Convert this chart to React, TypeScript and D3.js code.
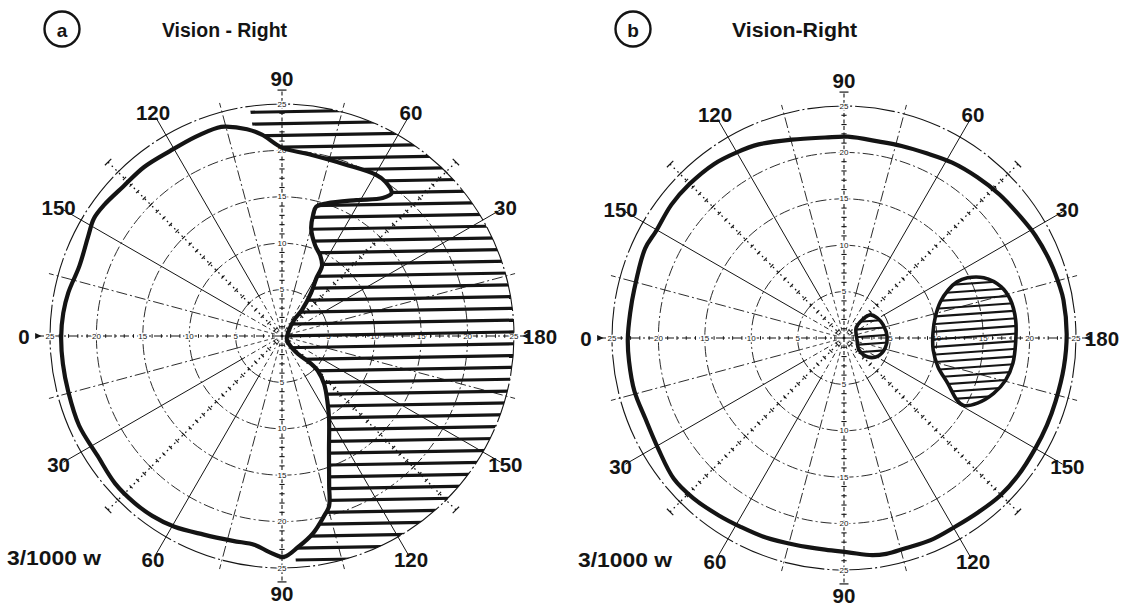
import React, { useEffect } from 'react';
import * as d3 from 'd3';

const WIDTH = 1133;
const HEIGHT = 607;
const MAX_ECC = 25;
const OUTER_PX = 232;

// grid definition (eccentricity rings and meridians, degrees; 0 = right, counter-clockwise)
const RINGS = [5, 10, 15, 20, 25];
const AXIS_NUMBERS = [5, 10, 15, 20, 25];
const HORIZONTAL_MERIDIANS = [0, 180];
const VERTICAL_MERIDIANS = [90, 270];
const DIAGONAL_MERIDIANS = [45, 135, 225, 315];
const MAJOR_MERIDIANS = [30, 60, 120, 150, 210, 240, 300, 330];
const MINOR_MERIDIANS = [15, 75, 105, 165, 195, 255, 285, 345];
const LABEL_MERIDIANS = [180, 150, 120, 90, 60, 30, 0, 330, 300, 270, 240, 210];
const LABEL_TEXTS = ['0', '150', '120', '90', '60', '30', '180', '150', '120', '90', '60', '30'];

// chart a: isopter [meridian°, eccentricity]
const ISOPTER_A: [number, number][] = [
  [105.3, 23.4], [99.6, 22.6], [95.7, 21.8], [90, 20.3], [81.5, 19.8], [69.8, 19.7], [60, 20.1],
  [56.1, 20.0], [52.5, 19.4], [53.9, 18.4], [61.3, 16.7], [71.2, 15.1], [75.2, 14.4], [75.6, 13.5],
  [74.8, 12.0], [69.9, 10.4], [64.6, 9.6], [60.3, 8.7], [59.2, 7.2], [56, 5.6], [52.4, 3.5],
  [53.1, 2.2], [40.6, 1.0], [-31, 0.6], [-48.8, 1.1], [-48.4, 2.6], [-43.9, 4.1], [-44.2, 5.4],
  [-48.8, 6.9], [-55.3, 8.6], [-60.2, 10.2], [-67.8, 13.4], [-72.5, 16.9], [-74.5, 19.0],
  [-76.8, 19.9], [-81, 21.5], [-85.6, 22.8], [-89.5, 23.8], [-93.5, 23.3], [-97.4, 22.7],
  [-103.5, 22.7], [-111.5, 23.0], [-119.4, 23.6], [-125.8, 23.9], [-131.5, 24.0], [-138.5, 24.0],
  [-147.1, 23.7], [-156.2, 23.9], [-165.5, 23.8], [-172.7, 23.8], [180.3, 23.8], [174, 23.7],
  [168.6, 23.5], [160.9, 23.1], [152.6, 23.5], [148, 23.9], [143.5, 23.8], [136.7, 23.5],
  [129.2, 23.5], [121.1, 23.3], [113.5, 23.4], [107.2, 23.5],
];
// meridian range of the hatched (blind) half-field in chart a
const DEFECT_A_SECTOR: [number, number] = [98, -86.5];

// chart b: isopter and two scotomas [meridian°, eccentricity]
const ISOPTER_B: [number, number][] = [
  [180.3, 23.3], [173.3, 23.2], [167, 23.2], [155.8, 23.5], [150.5, 23.3], [142.3, 23.5],
  [135.2, 23.5], [126.7, 23.4], [120, 23.1], [113.8, 22.8], [104.7, 22.1], [95.4, 21.7],
  [88.9, 21.7], [79.8, 21.5], [73.3, 21.6], [65.9, 21.8], [58.3, 22.2], [50.3, 22.5],
  [42.7, 22.8], [33.9, 23.1], [28.1, 23.4], [20, 23.7], [13.6, 23.9], [9.8, 24.0], [1, 24.0],
  [-7.5, 23.9], [-16.6, 23.8], [-23.3, 23.8], [-29.9, 23.8], [-38.4, 23.9], [-45.4, 23.9],
  [-52.6, 23.7], [-59.4, 23.6], [-66.8, 23.7], [-73.7, 23.6], [-78.9, 23.7], [-82.6, 23.6],
  [-88.9, 23.1], [-95.1, 22.9], [-103.4, 22.9], [-111.4, 23.1], [-118.7, 23.2], [-125.2, 23.4],
  [-133.3, 23.7], [-140.4, 23.8], [-149.3, 23.3], [-158, 23.1], [-165.8, 23.3], [-173.9, 23.3],
];
const SCOTOMA_B_CENTRAL: [number, number][] = [
  [41.5, 3.76], [45, 2.45], [39.8, 1.69], [-8.7, 1.42], [-38.7, 2.08], [-38.4, 3.31],
  [-27.9, 4.16], [-13.7, 4.57], [1.3, 4.65], [18.4, 4.45], [31.2, 4.18],
];
const SCOTOMA_B_BLIND_SPOT: [number, number][] = [
  [26.0, 14.8], [23.3, 16.4], [18.1, 17.8], [12.9, 18.4], [6.0, 18.6], [-1.7, 18.5], [-8.5, 18.4],
  [-14.6, 18.0], [-20.3, 17.2], [-26.0, 16.0], [-29.4, 14.8], [-28.8, 13.9], [-23.6, 12.2],
  [-17.1, 10.6], [-7.7, 9.7], [3.2, 9.6], [13.0, 10.1], [20.6, 11.1], [24.8, 12.4], [26.4, 13.6],
];

const CHARTS = [
  {
    id: 'a', letter: 'a', title: 'Vision - Right', cx: 282, cy: 336,
    letterX: 62, titleX: 162, stimulusX: 7,
    isopter: ISOPTER_A, defectSector: DEFECT_A_SECTOR, scotomas: [] as [number, number][][],
  },
  {
    id: 'b', letter: 'b', title: 'Vision-Right', cx: 844, cy: 338,
    letterX: 633, titleX: 732, stimulusX: 578,
    isopter: ISOPTER_B, defectSector: null as [number, number] | null,
    scotomas: [SCOTOMA_B_CENTRAL, SCOTOMA_B_BLIND_SPOT],
  },
];

const INK = '#141414';
const FONT = "'Liberation Sans', Arial, sans-serif";
const LABEL_ECC = 27.8;

const r = d3.scaleLinear().domain([0, MAX_ECC]).range([0, OUTER_PX]);
const rad = (deg: number) => (deg * Math.PI) / 180;
const px = (deg: number, e: number) => r(e) * Math.cos(rad(deg));
const py = (deg: number, e: number) => -r(e) * Math.sin(rad(deg));

const closedRadial = d3
  .lineRadial<[number, number]>()
  .angle((d) => rad(90 - d[0]))
  .radius((d) => r(d[1]))
  .curve(d3.curveCatmullRomClosed.alpha(0.5));

const arc = d3.arc<any>();
const UNIT_STEPS = d3.range(1, 26);

function seg(deg: number, e0: number, e1: number) {
  return { x1: px(deg, e0), y1: py(deg, e0), x2: px(deg, e1), y2: py(deg, e1) };
}

function perp(deg: number, e: number, half: number) {
  const x = px(deg, e);
  const y = py(deg, e);
  const nx = -Math.sin(rad(deg));
  const ny = -Math.cos(rad(deg));
  return { x1: x - nx * half, y1: y - ny * half, x2: x + nx * half, y2: y + ny * half };
}

function Grid() {
  return (
    <g fill="none" stroke={INK}>
      {RINGS.map((v) => (
        <circle key={'ring' + v} r={r(v)} strokeWidth={v === 25 ? 1.1 : 0.9}
          strokeDasharray={v === 25 ? '40 3 2 3' : '11 3 2 3'} />
      ))}
      {MAJOR_MERIDIANS.map((a) => (
        <g key={'maj' + a}>
          <line {...seg(a, 4.6, 27.2)} strokeWidth={1} />
          <line {...seg(a, 0.6, 4.6)} strokeWidth={0.9} strokeDasharray="5 3 1.5 3" />
        </g>
      ))}
      {MINOR_MERIDIANS.map((a) => (
        <g key={'min' + a}>
          <line {...seg(a, 5, 26)} strokeWidth={0.9} strokeDasharray="11 3 2 3" />
          <line {...seg(a, 0.8, 5)} strokeWidth={0.8} strokeDasharray="4 3" />
        </g>
      ))}
      {DIAGONAL_MERIDIANS.map((a) => (
        <g key={'dia' + a}>
          <line {...seg(a, 0, 26.5)} strokeWidth={1.3} strokeDasharray="1.6 3.6" />
          {UNIT_STEPS.map((e) => (
            <line key={e} {...perp(a, e, 2.2)} strokeWidth={1.1} />
          ))}
          <line {...perp(a, 26.5, 4.5)} strokeWidth={1.2} />
        </g>
      ))}
      {VERTICAL_MERIDIANS.map((a) => (
        <g key={'ver' + a}>
          <line {...seg(a, 0, 26.5)} strokeWidth={1.1} strokeDasharray="4 2.5" />
          {UNIT_STEPS.map((e) => (
            <line key={e} {...perp(a, e, 2.6)} strokeWidth={1.1} />
          ))}
          <line {...perp(a, 26.5, 4.5)} strokeWidth={1.2} />
        </g>
      ))}
      {HORIZONTAL_MERIDIANS.map((a) => (
        <g key={'hor' + a}>
          <line {...seg(a, 0, 26.4)} strokeWidth={1} strokeDasharray="9 3 2 3" />
          {UNIT_STEPS.map((e) => (
            <line key={e} {...perp(a, e, 1.8)} strokeWidth={1} />
          ))}
          <path
            d={`M${px(a, 26.6)},${py(a, 26.6) - 3}L${px(a, 25.9)},${py(a, 25.9)}L${px(a, 26.6)},${py(a, 26.6) + 3}Z`}
            fill={INK} stroke="none" />
        </g>
      ))}
      {[...HORIZONTAL_MERIDIANS, ...VERTICAL_MERIDIANS].map((a) =>
        AXIS_NUMBERS.map((v) => (
          <text key={'num' + a + '-' + v} x={px(a, v)} y={py(a, v)} textAnchor="middle"
            dominantBaseline="central" fontSize={8} fontFamily={FONT} fill={INK}
            stroke="#fff" strokeWidth={2.5} paintOrder="stroke">
            {v}
          </text>
        ))
      )}
    </g>
  );
}

function Hatch({ clipId, spacing, width, tilt, extent }: any) {
  const ys = d3.range(-Math.floor(extent / spacing) * spacing, extent + 0.1, spacing);
  return (
    <g clipPath={`url(#${clipId})`}>
      <g transform={`rotate(${tilt})`}>
        {ys.map((y) => (
          <line key={y} x1={-extent - 10} x2={extent + 10} y1={y} y2={y} stroke={INK} strokeWidth={width} />
        ))}
      </g>
    </g>
  );
}

function PolarChart({ cfg }: any) {
  const isopterPath = closedRadial(cfg.isopter) as string;
  const discPath = arc({ innerRadius: 0, outerRadius: r(MAX_ECC), startAngle: 0, endAngle: 2 * Math.PI }) as string;
  const sector = cfg.defectSector
    ? (arc({
        innerRadius: 0,
        outerRadius: r(27),
        startAngle: rad(90 - cfg.defectSector[0]),
        endAngle: rad(90 - cfg.defectSector[1]),
      }) as string)
    : null;

  return (
    <g>
      {/* header */}
      <circle cx={cfg.letterX} cy={29} r={17.5} fill="none" stroke={INK} strokeWidth={2.4} />
      <text x={cfg.letterX} y={30} textAnchor="middle" dominantBaseline="central" fontFamily={FONT}
        fontWeight="bold" fontSize={19} fill={INK}>{cfg.letter}</text>
      <text x={cfg.titleX} y={30} dominantBaseline="central" fontFamily={FONT} fontWeight="bold"
        fontSize={20} fill={INK} textLength={125} lengthAdjust="spacingAndGlyphs">{cfg.title}</text>
      <text x={cfg.stimulusX} y={cfg.cy + 229} fontFamily={FONT} fontWeight="bold" fontSize={20.5}
        fill={INK} textLength={94} lengthAdjust="spacingAndGlyphs">3/1000 w</text>

      <g transform={`translate(${cfg.cx},${cfg.cy})`}>
        <defs>
          {sector && (
            <>
              <clipPath id={`${cfg.id}-defect`}>
                <path d={discPath + isopterPath} clipRule="evenodd" />
              </clipPath>
              <clipPath id={`${cfg.id}-sector`}>
                <path d={sector} />
              </clipPath>
            </>
          )}
          {cfg.scotomas.map((s: [number, number][], i: number) => (
            <clipPath key={i} id={`${cfg.id}-scotoma-${i}`}>
              <path d={closedRadial(s) as string} />
            </clipPath>
          ))}
        </defs>
        <Grid />
        {sector && (
          <g clipPath={`url(#${cfg.id}-sector)`}>
            <Hatch clipId={`${cfg.id}-defect`} spacing={11.8} width={3.2} tilt={-1} extent={OUTER_PX + 20} />
          </g>
        )}
        {cfg.scotomas.map((s: [number, number][], i: number) => (
          <g key={'sc' + i}>
            <Hatch clipId={`${cfg.id}-scotoma-${i}`} spacing={7.6} width={2.1} tilt={-4} extent={OUTER_PX + 20} />
            <path d={closedRadial(s) as string} fill="none" stroke={INK} strokeWidth={3.6} strokeLinejoin="round" />
          </g>
        ))}
        <path d={isopterPath} fill="none" stroke={INK} strokeWidth={4.2} strokeLinejoin="round" />
        {LABEL_MERIDIANS.map((a, i) => (
          <text key={'lab' + i} x={px(a, LABEL_ECC)} y={py(a, LABEL_ECC)} textAnchor="middle"
            dominantBaseline="central" fontFamily={FONT} fontWeight="bold" fontSize={20.5} fill={INK}>
            {LABEL_TEXTS[i]}
          </text>
        ))}
      </g>
    </g>
  );
}

export default function App() {
  useEffect(() => {
    document.body.style.margin = '0';
  }, []);
  return (
    <svg width={WIDTH} height={HEIGHT} viewBox={`0 0 ${WIDTH} ${HEIGHT}`}
      style={{ display: 'block', background: '#fff' }}>
      <rect width={WIDTH} height={HEIGHT} fill="#fff" />
      {CHARTS.map((c) => (
        <PolarChart key={c.id} cfg={c} />
      ))}
    </svg>
  );
}
